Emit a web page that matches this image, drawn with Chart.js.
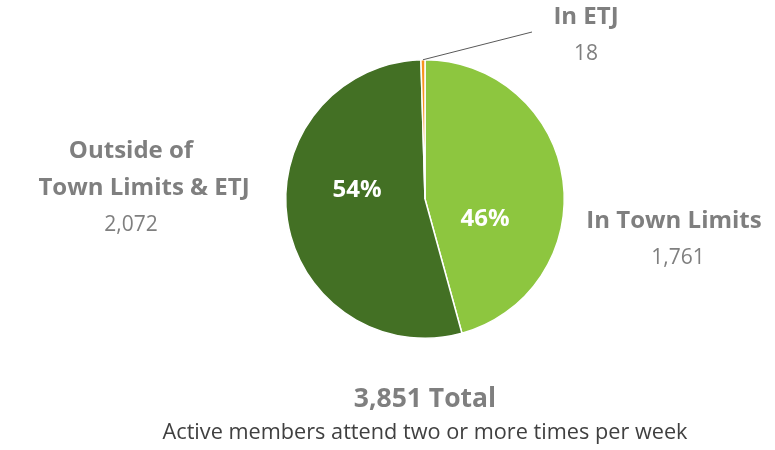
<!DOCTYPE html>
<html>
<head>
<meta charset="utf-8">
<script src="https://cdn.jsdelivr.net/npm/chart.js@4"></script>
<style>
  html, body { margin: 0; padding: 0; background: #fff; }
  #wrap { width: 775px; height: 450px; position: relative; }
</style>
</head>
<body>
<div id="wrap"><canvas id="pie" width="775" height="450"></canvas></div>
<script>
// Active members by residence
const categories = ['In Town Limits', 'Outside of Town Limits & ETJ', 'In ETJ'];
const members = [1761, 2072, 18];
const sliceColors = ['#8DC63F', '#437024', '#F7941D'];
const totalLabel = '3,851 Total';
const subtitle = 'Active members attend two or more times per week';

const GRAY = '#7F7F7F';
const FONT = "'Open Sans', sans-serif";

const total = members.reduce((a, b) => a + b, 0);
const fmt = v => v.toLocaleString('en-US');
const pct = v => Math.round(v / total * 100) + '%';

// draws the category labels, values, percentages and the caption
const labelPlugin = {
  id: 'pieLabels',
  afterDraw(chart) {
    const ctx = chart.ctx;
    const arcs = chart.getDatasetMeta(0).data;
    ctx.save();
    ctx.textAlign = 'center';
    ctx.textBaseline = 'middle';

    // leader line for the tiny ETJ slice
    const etj = arcs[2];
    const mid = (etj.startAngle + etj.endAngle) / 2;
    ctx.strokeStyle = '#595959';
    ctx.lineWidth = 1;
    ctx.beginPath();
    ctx.moveTo(etj.x + Math.cos(mid) * etj.outerRadius, etj.y + Math.sin(mid) * etj.outerRadius);
    ctx.lineTo(532, 32);
    ctx.stroke();

    const bold = size => `bold ${size}px ${FONT}`;
    const reg = size => `${size}px ${FONT}`;

    ctx.fillStyle = GRAY;
    ctx.font = bold(24);
    ctx.fillText('In ETJ', 586, 17);
    ctx.font = reg(21);
    ctx.fillText(fmt(members[2]), 586, 54);

    ctx.font = bold(24);
    ctx.fillText('Outside of', 131, 151);
    ctx.fillText('Town Limits & ETJ', 144, 188);
    ctx.font = reg(21);
    ctx.fillText(fmt(members[1]), 131, 225);

    ctx.font = bold(24);
    ctx.fillText('In Town Limits', 674, 221);
    ctx.font = reg(21);
    ctx.fillText(fmt(members[0]), 678, 258);

    ctx.fillStyle = '#fff';
    ctx.font = bold(24);
    ctx.fillText(pct(members[1]), 357, 190);
    ctx.fillText(pct(members[0]), 485, 219);

    ctx.fillStyle = GRAY;
    ctx.font = bold(26.5);
    ctx.fillText(totalLabel, 425, 399);
    ctx.fillStyle = '#404040';
    ctx.font = reg(21.7);
    ctx.fillText(subtitle, 425, 433);
    ctx.restore();
  }
};

new Chart(document.getElementById('pie'), {
  type: 'pie',
  data: {
    labels: categories,
    datasets: [{
      data: members,
      backgroundColor: sliceColors,
      borderColor: '#ffffff',
      borderWidth: 1.5,
    }],
  },
  options: {
    responsive: false,
    animation: false,
    layout: { padding: { top: 59, bottom: 111, left: 285, right: 210 } },
    plugins: {
      legend: { display: false },
      tooltip: { enabled: false },
    },
  },
  plugins: [labelPlugin],
});
</script>
</body>
</html>
